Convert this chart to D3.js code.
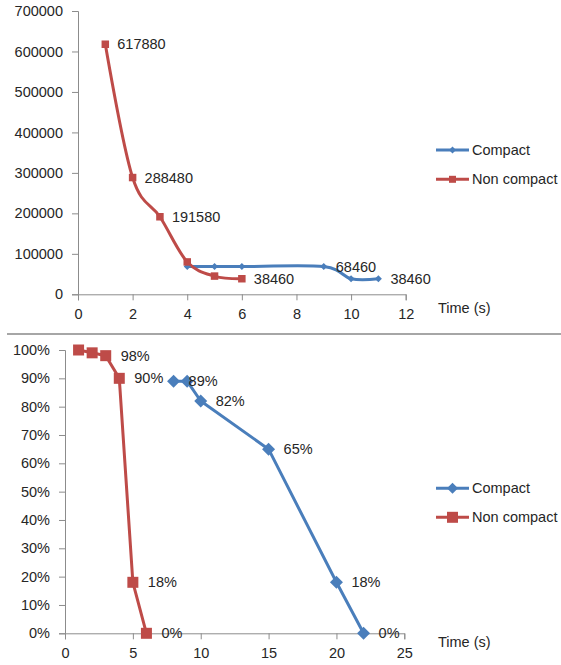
<!DOCTYPE html>
<html><head><meta charset="utf-8">
<script src="https://cdn.jsdelivr.net/npm/d3@7"></script>
<style>
html,body{margin:0;padding:0;background:#fff;}
svg{display:block;}
text{font-family:"Liberation Sans",Arial,sans-serif;fill:#262626;}
</style></head><body>
<svg id="c" width="561" height="665"></svg>
<script>
// ---- Top chart data (message count vs time) ----
const topCompactX = [4, 5, 6, 9, 10, 11];
const topCompactY = [68460, 68460, 68460, 68460, 38460, 38460];
const topCompactLabels = [null, null, null, "68460", null, "38460"];
const topNonCompactX = [1, 2, 3, 4, 5, 6];
const topNonCompactY = [617880, 288480, 191580, 80000, 45000, 38460];
const topNonCompactLabels = ["617880", "288480", "191580", null, null, "38460"];
const topYTicks = [0, 100000, 200000, 300000, 400000, 500000, 600000, 700000];
const topXTicks = [0, 2, 4, 6, 8, 10, 12];

// ---- Bottom chart data (percentage vs time) ----
const botCompactX = [8, 9, 10, 15, 20, 22];
const botCompactY = [0.89, 0.89, 0.82, 0.65, 0.18, 0.0];
const botCompactLabels = ["89%", null, "82%", "65%", "18%", "0%"];
const botNonCompactX = [1, 2, 3, 4, 5, 6];
const botNonCompactY = [1.0, 0.99, 0.98, 0.90, 0.18, 0.0];
const botNonCompactLabels = [null, null, "98%", "90%", "18%", "0%"];
const botYTicks = [0, .1, .2, .3, .4, .5, .6, .7, .8, .9, 1.0];
const botXTicks = [0, 5, 10, 15, 20, 25];

const seriesNames = ["Compact", "Non compact"];
const BLUE = "#4A7EBB", RED = "#BE4B48", AXIS = "#8c8c8c";
const FS = "14.5px";

const svg = d3.select("#c");

function zip(xs, ys, ls){ return xs.map((x,i)=>({x, y: ys[i], label: ls[i]})); }

function drawChart(cfg){
  const g = svg.append("g");
  const x = d3.scaleLinear().domain(cfg.xDomain).range(cfg.xRange);
  const y = d3.scaleLinear().domain(cfg.yDomain).range(cfg.yRange);

  // Y axis
  const ya = d3.axisLeft(y).tickValues(cfg.yTicks).tickSize(6).tickPadding(9).tickFormat(cfg.yFmt);
  const yg = g.append("g").attr("transform", `translate(${cfg.xRange[0]},0)`).call(ya);
  // X axis
  const xa = d3.axisBottom(x).tickValues(cfg.xTicks).tickSize(6).tickPadding(6).tickFormat(d3.format("d"));
  const xg = g.append("g").attr("transform", `translate(0,${cfg.yRange[0]})`).call(xa);
  [yg, xg].forEach(a=>{
    a.select(".domain").attr("stroke", AXIS).attr("stroke-width", 1);
    a.selectAll(".tick line").attr("stroke", AXIS);
    a.selectAll(".tick text").style("font-size", FS).attr("fill", "#262626");
  });
  xg.selectAll(".tick text").attr("dy", "0.9em");

  g.append("text").attr("x", 438).attr("y", cfg.timeY).attr("dy", "0.35em")
    .style("font-size", FS).text("Time (s)");

  const series = [
    {name: seriesNames[0], color: BLUE, data: zip(cfg.cX, cfg.cY, cfg.cL), shape: "diamond"},
    {name: seriesNames[1], color: RED, data: zip(cfg.nX, cfg.nY, cfg.nL), shape: "square"}
  ];

  const line = d3.line().x(d=>x(d.x)).y(d=>y(d.y)).curve(cfg.curve);

  series.forEach(s=>{
    g.append("path").datum(s.data).attr("d", line).attr("fill","none")
      .attr("stroke", s.color).attr("stroke-width", 3).attr("stroke-linejoin","round");
  });
  series.forEach(s=>{
    const sz = s.shape === "square" ? cfg.sqSize : cfg.diaSize;
    const sym = d3.symbol().type(s.shape === "square" ? d3.symbolSquare : d3.symbolDiamond2).size(sz*sz);
    g.selectAll(null).data(s.data).enter().append("path")
      .attr("d", s.shape === "square" ? d3.symbol().type(d3.symbolSquare).size(sz*sz) : diamondPath(sz))
      .attr("transform", d=>`translate(${x(d.x)},${y(d.y)})`)
      .attr("fill", s.color);
    g.selectAll(null).data(s.data.filter(d=>d.label)).enter().append("text")
      .attr("x", d=>x(d.x) + cfg.labelOff).attr("y", d=>y(d.y)).attr("dy","0.35em")
      .style("font-size", FS).text(d=>d.label);
  });

  // Legend
  series.forEach((s,i)=>{
    const ly = cfg.legY[i];
    g.append("line").attr("x1",436).attr("x2",469).attr("y1",ly).attr("y2",ly)
      .attr("stroke", s.color).attr("stroke-width", 3);
    const sz = s.shape === "square" ? cfg.legSq : cfg.legDia;
    g.append("path")
      .attr("d", s.shape === "square" ? d3.symbol().type(d3.symbolSquare).size(sz*sz) : diamondPath(sz))
      .attr("transform", `translate(452.5,${ly})`).attr("fill", s.color);
    g.append("text").attr("x", 472).attr("y", ly).attr("dy","0.35em").style("font-size", FS).text(s.name);
  });
}

function diamondPath(w){
  const h = w/2;
  return `M0,${-h}L${h},0L0,${h}L${-h},0Z`;
}

// top chart
drawChart({
  xDomain:[0,12], xRange:[78,405.7], yDomain:[0,700000], yRange:[294.3,11],
  yTicks: topYTicks, xTicks: topXTicks, yFmt: d3.format("d"),
  cX: topCompactX, cY: topCompactY, cL: topCompactLabels,
  nX: topNonCompactX, nY: topNonCompactY, nL: topNonCompactLabels,
  curve: d3.curveCardinal.tension(0), sqSize: 7.5, diaSize: 7, labelOff: 12,
  legY:[150,179.3], legSq:7, legDia:7, timeY: 308
});

// separator
svg.append("line").attr("x1",7).attr("x2",561).attr("y1",334).attr("y2",334)
  .attr("stroke","#a6a6a6").attr("stroke-width",2);

// bottom chart
drawChart({
  xDomain:[0,25], xRange:[65,404.3], yDomain:[0,1], yRange:[633.3,350],
  yTicks: botYTicks, xTicks: botXTicks, yFmt: d3.format(".0%"),
  cX: botCompactX, cY: botCompactY, cL: botCompactLabels,
  nX: botNonCompactX, nY: botNonCompactY, nL: botNonCompactLabels,
  curve: d3.curveLinear, sqSize: 11, diaSize: 13, labelOff: 15,
  legY:[488.3,517.3], legSq:11, legDia:11, timeY: 642
});
</script>
</body></html>
